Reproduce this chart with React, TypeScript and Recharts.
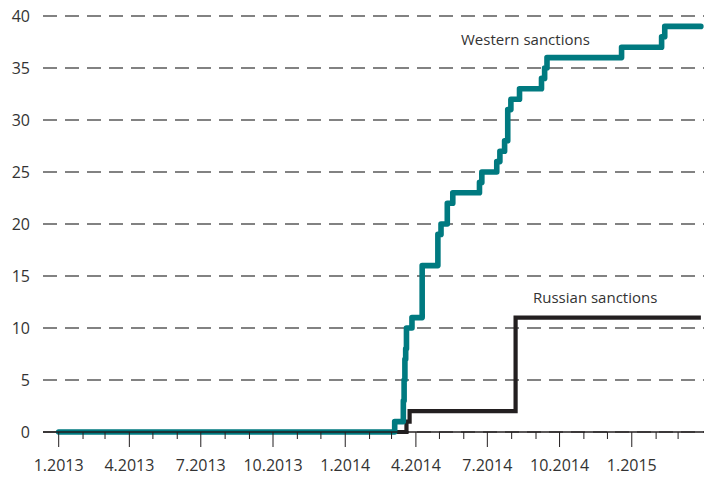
import React from "react";
import { LineChart, Line, XAxis, YAxis, CartesianGrid } from "recharts";

// dates when the number of sanction packages changed (step after)
const WESTERN_DATES = [
  "2013-01-01", "2014-03-05", "2014-03-16", "2014-03-17", "2014-03-18",
  "2014-03-19", "2014-03-20", "2014-03-27", "2014-04-09", "2014-04-29",
  "2014-05-03", "2014-05-11", "2014-05-18", "2014-06-21", "2014-06-24",
  "2014-07-13", "2014-07-17", "2014-07-23", "2014-07-27", "2014-07-31",
  "2014-08-11", "2014-09-08", "2014-09-12", "2014-09-15", "2014-12-19",
  "2015-02-08", "2015-02-12", "2015-03-30",
];
const WESTERN_VALUES = [
  0, 1, 3, 5, 7,
  8, 10, 11, 16, 19,
  20, 22, 23, 24, 25,
  26, 27, 28, 31, 32,
  33, 34, 35, 36, 37,
  38, 39, 39,
];

const RUSSIAN_DATES = ["2013-01-01", "2014-03-20", "2014-03-24", "2014-08-06", "2015-03-30"];
const RUSSIAN_VALUES = [0, 1, 2, 11, 11];

const Y_TICKS = [0, 5, 10, 15, 20, 25, 30, 35, 40];
const QUARTER_LABELS = ["1.2013", "4.2013", "7.2013", "10.2013", "1.2014", "4.2014", "7.2014", "10.2014", "1.2015"];

const TEAL = "#007a80";
const DARK = "#231f20";
const TEXT = "#333333";
const FONT = "'Open Sans', sans-serif";

const DAY0 = Date.UTC(2013, 0, 1);
const toDay = (s: string) => Math.round((Date.parse(s) - DAY0) / 86400000);

const westernData = WESTERN_DATES.map((d, i) => ({ day: toDay(d), value: WESTERN_VALUES[i] }));
const russianData = RUSSIAN_DATES.map((d, i) => ({ day: toDay(d), value: RUSSIAN_VALUES[i] }));

// monthly ticks Jan 2013 .. Mar 2015, labelled every quarter
const monthTicks: number[] = [];
for (let m = 0; m < 27; m++) {
  monthTicks.push(Math.round((Date.UTC(2013, m, 1) - DAY0) / 86400000));
}
const labelFor = (day: number) => {
  const i = monthTicks.indexOf(day);
  return i % 3 === 0 ? QUARTER_LABELS[i / 3] : null;
};

const MonthTick = (props: any) => {
  const { x, y, payload } = props;
  const label = labelFor(payload.value);
  return (
    <g>
      <line x1={x} x2={x} y1={y} y2={y + (label ? 15 : 7)} stroke={DARK} strokeWidth={1} />
      {label && (
        <text x={x} y={y + 39} textAnchor="middle" fill={TEXT} fontSize={16} fontFamily={FONT}>
          {label}
        </text>
      )}
    </g>
  );
};

export default function App() {
  return (
    <div style={{ position: "absolute", left: 0, top: 0, width: 704, height: 479, background: "#fff" }}>
      <LineChart width={704} height={479} margin={{ top: 16, right: 0, bottom: 0, left: 0 }}>
        <CartesianGrid vertical={false} stroke="#5a5a5a" strokeWidth={1.3} strokeDasharray="14 8" />
        <XAxis
          dataKey="day"
          type="number"
          domain={[-20, 822]}
          ticks={monthTicks}
          interval={0}
          height={47}
          tickSize={0}
          tickMargin={0}
          tickLine={false}
          tick={<MonthTick />}
          axisLine={{ stroke: DARK, strokeWidth: 1.3 }}
          allowDataOverflow
        />
        <YAxis
          domain={[0, 40]}
          ticks={Y_TICKS}
          width={43}
          axisLine={false}
          tickLine={false}
          tickSize={5}
          tickMargin={8}
          tick={{ fill: TEXT, fontSize: 16, fontFamily: FONT }}
        />
        <Line
          data={russianData}
          dataKey="value"
          type="stepAfter"
          stroke={DARK}
          strokeWidth={4.2}
          strokeLinecap="butt"
          dot={false}
          isAnimationActive={false}
        />
        <Line
          data={westernData}
          dataKey="value"
          type="stepAfter"
          stroke={TEAL}
          strokeWidth={5.6}
          strokeLinecap="round"
          strokeLinejoin="round"
          dot={false}
          isAnimationActive={false}
        />
      </LineChart>
      <div style={{ position: "absolute", left: 461, top: 29, fontFamily: FONT, fontSize: 15, color: TEXT, whiteSpace: "nowrap" }}>
        Western sanctions
      </div>
      <div style={{ position: "absolute", left: 533, top: 287, fontFamily: FONT, fontSize: 15, color: TEXT, whiteSpace: "nowrap" }}>
        Russian sanctions
      </div>
    </div>
  );
}
